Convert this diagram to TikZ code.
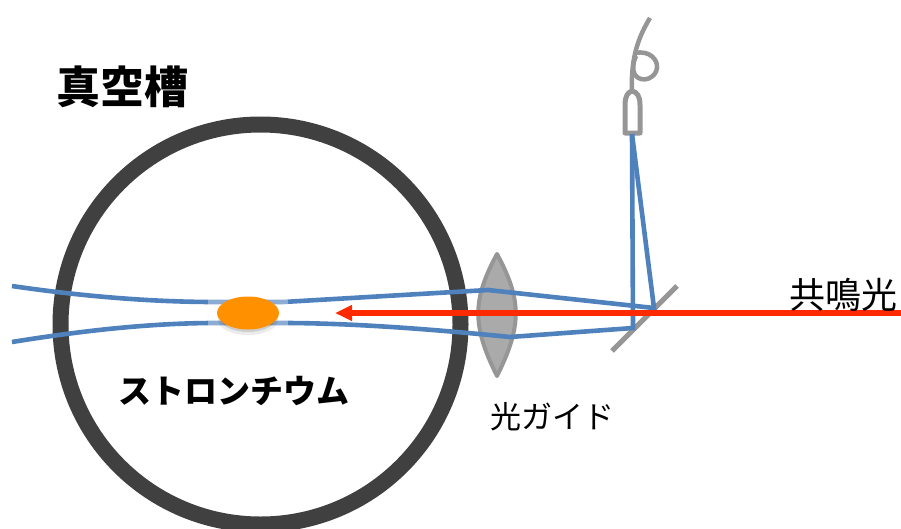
\documentclass[tikz,border=0pt]{standalone}
\usepackage{fontspec}
\setmainfont{Noto Sans CJK JP}
\definecolor{vcRing}{RGB}{64, 64, 64}
\definecolor{vcBeam}{RGB}{79, 129, 189}
\definecolor{vcGray}{RGB}{150, 150, 150}
\definecolor{vcLens}{RGB}{170, 170, 170}
\definecolor{vcRed}{RGB}{255, 42, 0}
\definecolor{vcOrange}{RGB}{255, 145, 0}
\usetikzlibrary{shapes.geometric, arrows.meta}
\tikzset{
  ring/.style={draw=vcRing, line width=16pt},
  beam/.style={draw=vcBeam, line width=4.6pt, line join=miter},
  grayline/.style={draw=vcGray, line width=5pt},
  lens/.style={draw=vcGray, line width=4pt, fill=vcLens, line join=round},
  resonance/.style={-{Triangle[length=17pt, width=15pt]}, vcRed, line width=5.5pt},
  title/.style={font=\bfseries\fontsize{44}{44}\selectfont, inner sep=0pt},
  atomlabel/.style={font=\bfseries\fontsize{33}{33}\selectfont, inner sep=0pt},
  plainlabel/.style={font=\fontsize{#1}{#1}\selectfont, inner sep=0pt},
}
\begin{document}
\begin{tikzpicture}[x=1pt, y=-1pt]
  \clip (0, 0) rectangle (901, 528);
  % beam points
  \coordinate (upperin) at (12, 286);
  \coordinate (lowerin) at (12, 342);
  \coordinate (uppermid) at (215, 302);
  \coordinate (lowermid) at (215, 323);
  \coordinate (upperout) at (283, 302);
  \coordinate (lowerout) at (283, 323);
  \coordinate (lensupper) at (488, 290);
  \coordinate (lenslower) at (510, 337);
  \coordinate (mirrorupper) at (654, 308);
  \coordinate (mirrorlower) at (633, 328);
  \coordinate (fibertip) at (632, 134);
  \coordinate (redstart) at (901, 313);
  \coordinate (redend) at (335, 313);

  \draw[ring] (260.5, 324.5) circle (200);
  \draw[lens] (497, 254) .. controls (472, 300) and (472, 326) .. (497, 376)
    .. controls (522, 326) and (522, 300) .. (497, 254) -- cycle;
  \draw[grayline] (612, 351) -- (677, 286);

  % fiber
  \draw[grayline, line join=round] (625, 133) -- (625, 105) .. controls (625, 96) and (628, 92) .. (632, 91)
    .. controls (637, 92) and (640, 96) .. (640, 105) -- (640, 133) -- cycle;
  \draw[grayline, line width=4.5pt] (632, 91) .. controls (631, 65) and (635, 42) .. (650, 18);
  \draw[grayline, line width=4.5pt] (635, 53) .. controls (650, 50) and (658, 60) .. (657, 68)
    .. controls (656, 78) and (642, 84) .. (635, 75) .. controls (632, 70) and (633, 62) .. (636, 56);

  % beams
  \draw[beam] (upperin) .. controls (80, 296) and (150, 302) .. (uppermid) -- (upperout)
    -- (lensupper) -- (mirrorupper) -- (fibertip);
  \draw[beam] (lowerin) .. controls (80, 331) and (150, 323) .. (lowermid) -- (lowerout)
    .. controls (350, 323) and (430, 329) .. (lenslower) -- (mirrorlower) -- (fibertip);

  % atoms
  \fill[white, opacity=0.35] (208, 292) rectangle (288, 335);
  \fill[black, opacity=0.08] (248, 320) ellipse (30 and 15);
  \fill[black, opacity=0.12] (248, 318) ellipse (28 and 14);
  \node[ellipse, fill=vcOrange, inner sep=0pt, minimum width=62pt, minimum height=33pt] (atoms) at (248, 313) {};
  \draw[resonance] (redstart) -- (redend);

  \node[title, anchor=west] (chamber) at (56, 87) {真空槽};
  \node[atomlabel, anchor=west] (strontium) at (118, 391) {ストロンチウム};
  \node[plainlabel=31, anchor=west] (guide) at (490, 417) {光ガイド};
  \node[plainlabel=36, anchor=west] (light) at (789, 295) {共鳴光};
\end{tikzpicture}
\end{document}
